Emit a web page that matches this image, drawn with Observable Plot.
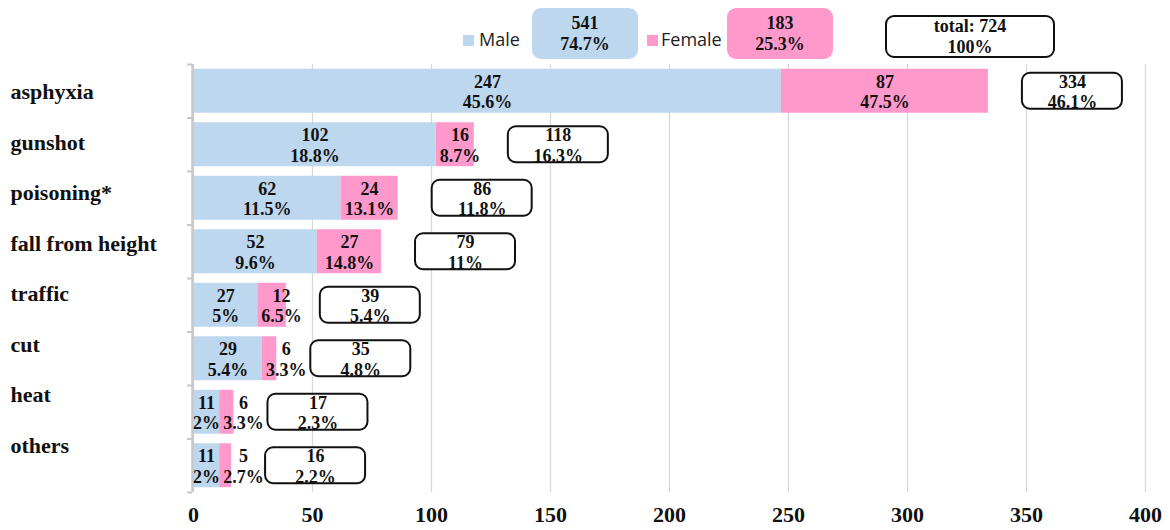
<!DOCTYPE html>
<html><head><meta charset="utf-8">
<script src="https://cdn.jsdelivr.net/npm/d3@7"></script>
<script src="https://cdn.jsdelivr.net/npm/@observablehq/plot@0.6"></script>
<style>
body{margin:0;background:#fff;}
#wrap{position:relative;width:1170px;height:530px;overflow:hidden;}
#legend{position:relative;height:60px;font-family:"Liberation Serif",serif;}
.sw{position:absolute;width:11px;height:11px;top:35px;}
.lt{position:absolute;top:27px;font-family:"Open Sans",sans-serif;font-size:18px;color:#222;line-height:24px;}
.box{position:absolute;box-sizing:border-box;border-radius:9px;display:flex;flex-direction:column;justify-content:center;align-items:center;font-weight:bold;font-size:18px;line-height:21px;color:#111;}
</style></head>
<body><div id="wrap"><div id="legend"></div><div id="chart"></div></div>
<script>
// ---- data ----
const categories = ["asphyxia","gunshot","poisoning*","fall from height","traffic","cut","heat","others"];
const male = [247,102,62,52,27,29,11,11];
const female = [87,16,24,27,12,6,6,5];
const malePct = ["45.6%","18.8%","11.5%","9.6%","5%","5.4%","2%","2%"];
const femalePct = ["47.5%","8.7%","13.1%","14.8%","6.5%","3.3%","3.3%","2.7%"];
const totals = [334,118,86,79,39,35,17,16];
const totalPct = ["46.1%","16.3%","11.8%","11%","5.4%","4.8%","2.3%","2.2%"];
const sexes = ["Male","Female"];
const sexTotals = [541,183];
const sexPct = ["74.7%","25.3%"];
const grandTotal = 724;
const grandPct = "100%";
const xTicks = [0,50,100,150,200,250,300,350,400];
const colors = ["#BDD7EE","#FF99CC"];

// ---- legend (HTML) ----
const legend = document.getElementById("legend");
function el(cls, css, html){const d=document.createElement("div");d.className=cls;Object.assign(d.style,css);if(html!=null)d.innerHTML=html;legend.appendChild(d);return d;}
const swX=[463,647], txtX=[479,661], boxX=[532,727];
sexes.forEach((s,i)=>{
  el("sw",{left:swX[i]+"px",background:colors[i]});
  el("lt",{left:txtX[i]+"px"},s);
  el("box",{left:boxX[i]+"px",top:"8px",width:"106px",height:"51px",background:colors[i]},`<div>${sexTotals[i]}</div><div>${sexPct[i]}</div>`);
});
el("box",{left:"885px",top:"15px",width:"170px",height:"43px",border:"2px solid #111",background:"#fff"},`<div>total: ${grandTotal}</div><div>${grandPct}</div>`);

// ---- chart rows ----
const rows = categories.map((c,i)=>({cat:c, male:male[i], female:female[i], mp:malePct[i], fp:femalePct[i], total:totals[i], tp:totalPct[i]}));
const segs = rows.flatMap(r=>[
  {cat:r.cat, sex:"Male", x1:0, x2:r.male},
  {cat:r.cat, sex:"Female", x1:r.male, x2:r.male+r.female}
]);
const lab = {fontSize:18, fontWeight:"bold", lineHeight:1.15, fill:"#111"};

const chart = Plot.plot({
  width:1170, height:470,
  marginTop:4, marginBottom:38, marginLeft:193, marginRight:25,
  style:{fontFamily:"'Liberation Serif', serif", fontWeight:"bold", fontSize:"22px", color:"#111", background:"#fff"},
  x:{domain:[0,400], ticks:xTicks, tickSize:0, tickPadding:14, label:null},
  y:{domain:categories, paddingInner:0.178, paddingOuter:0.089, round:false, axis:null, label:null},
  color:{domain:sexes, range:colors},
  marks:[
    Plot.gridX(xTicks,{stroke:"#d9d9d9", strokeOpacity:1, strokeWidth:1.3}),
    Plot.barX(segs,{y:"cat", x1:"x1", x2:"x2", fill:"sex"}),
    Plot.ruleX([0],{stroke:"#c8c8c8", strokeWidth:2.5, dx:-1}),
    Plot.axisY(categories,{text:null, label:null, tickSize:5, stroke:"#c8c8c8", strokeWidth:2, dy:-26.75, dx:-1}),
    Plot.axisY([categories[categories.length-1]],{text:null, label:null, tickSize:5, stroke:"#c8c8c8", strokeWidth:2, dy:26.75, dx:-1}),
    Plot.text(rows,{y:"cat", x:d=>d.male/2, text:d=>`${d.male}\n${d.mp}`, ...lab}),
    Plot.text(rows,{y:"cat", x:d=>Math.max(d.male+d.female/2, d.male+10), text:d=>`${d.female}\n${d.fp}`, ...lab}),
    Plot.rect(rows,{y:"cat", x1:"total", x2:"total", insetLeft:34, insetRight:-134, insetTop:4, insetBottom:4, rx:8, fill:"#fff", stroke:"#111", strokeWidth:2}),
    Plot.text(rows,{y:"cat", x:"total", dx:84, text:d=>`${d.total}\n${d.tp}`, ...lab}),
    Plot.text([categories.join("\n")],{frameAnchor:"top-left", textAnchor:"start", lineAnchor:"top", dx:-183, dy:-1, fontSize:22, fontWeight:"bold", lineHeight:2.295, fill:"#111"})
  ]
});
document.getElementById("chart").appendChild(chart);
</script></body></html>
